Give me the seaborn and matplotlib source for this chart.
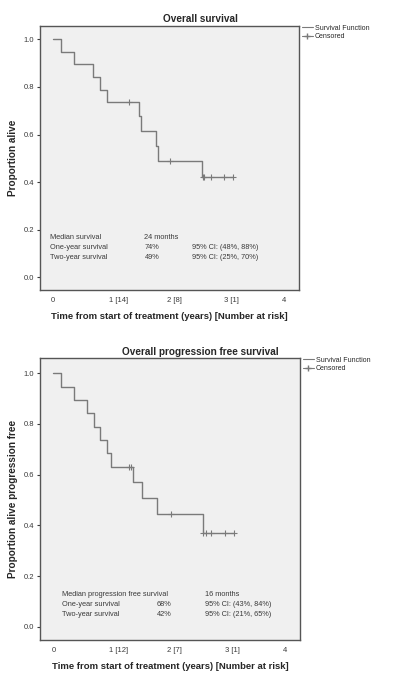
import matplotlib
matplotlib.use('Agg')
import matplotlib.pyplot as plt
import matplotlib.transforms as mtrans
from matplotlib.lines import Line2D
import seaborn as sns
import pandas as pd

# overall survival
os_time = [0, 0.13, 0.36, 0.69, 0.81, 0.925, 1.49, 1.52, 1.78, 1.81, 2.58, 3.12]
os_surv = [1.0, 0.947, 0.895, 0.842, 0.789, 0.737, 0.678, 0.615, 0.553, 0.49, 0.423, 0.423]
os_cens_time = [1.31, 2.02, 2.59, 2.62, 2.73, 2.96, 3.12]
os_cens_surv = [0.737, 0.49, 0.423, 0.423, 0.423, 0.423, 0.423]
os_xticklabels = ['0', '1 [14]', '2 [8]', '3 [1]', '4']
os_rows = ['Median survival', 'One-year survival', 'Two-year survival']
os_vals = ['24 months', '74%', '49%']
os_ci = ['', '95% CI: (48%, 88%)', '95% CI: (25%, 70%)']

# progression free survival
pfs_time = [0, 0.13, 0.36, 0.59, 0.70, 0.81, 0.925, 1.0, 1.37, 1.53, 1.785, 2.58, 3.12]
pfs_surv = [1.0, 0.947, 0.895, 0.842, 0.789, 0.737, 0.684, 0.632, 0.569, 0.506, 0.443, 0.369, 0.369]
pfs_cens_time = [1.30, 1.34, 2.03, 2.59, 2.63, 2.73, 2.96, 3.12]
pfs_cens_surv = [0.632, 0.632, 0.443, 0.369, 0.369, 0.369, 0.369, 0.369]
pfs_xticklabels = ['0', '1 [12]', '2 [7]', '3 [1]', '4']
pfs_rows = ['Median progression free survival', 'One-year survival', 'Two-year survival']
pfs_vals = ['', '68%', '42%']
pfs_ci = ['16 months', '95% CI: (43%, 84%)', '95% CI: (21%, 65%)']

sns.set_style('white')
plt.rcParams['font.family'] = ['Liberation Sans', 'DejaVu Sans']

line_col = '#7a7a7a'
text_col = '#3a3a3a'

fig = plt.figure(figsize=(4.03, 6.78), dpi=100)
ax1 = fig.add_axes([40/403, 1 - 290/678, 259/403, 264/678])
ax2 = fig.add_axes([40/403, 1 - 640/678, 260/403, 281.7/678])


def km_panel(ax, t, s, ct, cs, xlabels, ylabel, ylim, col1, col2, col3, ys, xs):
    df = pd.DataFrame({'t': t, 's': s})
    sns.lineplot(data=df, x='t', y='s', ax=ax, drawstyle='steps-post',
                 estimator=None, sort=False, color=line_col, linewidth=1.0)
    cdf = pd.DataFrame({'t': ct, 's': cs})
    sns.scatterplot(data=cdf, x='t', y='s', ax=ax, marker='+', s=18,
                    color=line_col, linewidth=0.8)
    ax.set_facecolor('#f0f0f0')
    ax.set_xlim(-0.23, 4.26)
    ax.set_ylim(*ylim)
    ax.set_xticks([0, 1, 2, 3, 4])
    ax.set_xticklabels(xlabels)
    ax.set_yticks([0, 0.2, 0.4, 0.6, 0.8, 1.0])
    ax.set_yticklabels(['0.0', '0.2', '0.4', '0.6', '0.8', '1.0'])
    ax.tick_params(axis='x', length=0, pad=5, labelsize=5.5, colors=text_col)
    ax.tick_params(axis='y', length=2.5, width=0.8, pad=1.5, labelsize=5.5,
                   colors=text_col, left=True)
    for lab in ax.get_xticklabels()[1:4]:
        lab.set_horizontalalignment('left')
        lab.set_transform(lab.get_transform() + mtrans.ScaledTranslation(-2/100, 0, fig.dpi_scale_trans))
    for sp in ax.spines.values():
        sp.set_color('#555555')
        sp.set_linewidth(1.0)
    ax.set_xlabel('Time from start of treatment (years) [Number at risk]',
                  fontsize=6.8, fontweight='bold', labelpad=6)
    ax.set_ylabel(ylabel, fontsize=7.2, fontweight='bold', labelpad=4)
    for i in range(3):
        for x, txt in zip(xs, [col1[i], col2[i], col3[i]]):
            ax.text(x, ys[i], txt, fontsize=5.3, color=text_col, va='center')
    handles = [Line2D([], [], color=line_col, linewidth=0.8),
               Line2D([], [], color=line_col, linewidth=0.8, marker='+', markersize=5)]
    ax.legend(handles, ['Survival Function', 'Censored'], loc='upper left',
              bbox_to_anchor=(0.995, 1.02), frameon=False, fontsize=5,
              handlelength=1.6, handletextpad=0.3, labelspacing=0.2,
              borderaxespad=0.2)


km_panel(ax1, os_time, os_surv, os_cens_time, os_cens_surv, os_xticklabels,
         'Proportion alive', (-0.053, 1.056), os_rows, os_vals, os_ci,
         [0.168, 0.124, 0.085], [-0.06, 1.58, 2.40])
km_panel(ax2, pfs_time, pfs_surv, pfs_cens_time, pfs_cens_surv, pfs_xticklabels,
         'Proportion alive progression free', (-0.0525, 1.059), pfs_rows, pfs_vals,
         pfs_ci, [0.128, 0.087, 0.047], [0.145, 1.79, 2.62])

fig.text(200/403, 1 - 19/678, 'Overall survival', ha='center', va='center',
         fontsize=7.2, fontweight='bold')
fig.text(200/403, 1 - 351.7/678, 'Overall progression free survival', ha='center',
         va='center', fontsize=7.2, fontweight='bold')

fig.savefig('out.png', dpi=100, facecolor='white')
